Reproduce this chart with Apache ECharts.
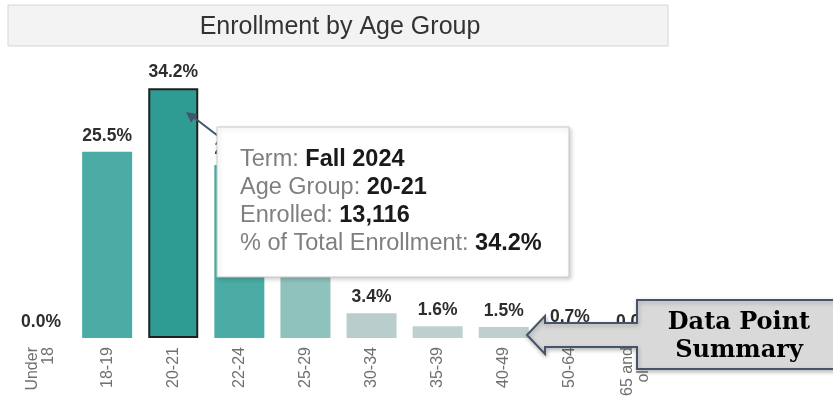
<!DOCTYPE html>
<html>
<head>
<meta charset="utf-8">
<script src="https://cdn.jsdelivr.net/npm/echarts@6/dist/echarts.min.js"></script>
<style>
html,body{margin:0;padding:0;background:#fff;}
#chart{width:833px;height:401px;}
</style>
</head>
<body>
<div id="chart"></div>
<script>
// ---- data ----
const chartTitle = 'Enrollment by Age Group';
const categories = ['Under\n18', '18-19', '20-21', '22-24', '25-29', '30-34', '35-39', '40-49', '50-64', '65 and\nolder'];
const pctOfTotal = [0.0, 25.5, 34.2, 23.7, 9.4, 3.4, 1.6, 1.5, 0.7, 0.0];
const selectedIndex = 2;
const tooltipLabels = ['Term', 'Age Group', 'Enrolled', '% of Total Enrollment'];
const tooltipValues = ['Fall 2024', '20-21', '13,116', '34.2%'];
const calloutLines = ['Data Point', 'Summary'];

// ---- styles ----
const barColors = ['#4aaca5', '#4aaca5', '#2f9c94', '#4aaca5', '#8fc1bd', '#b9cecc', '#bfcfcd', '#bfcfcd', '#bfcfcd', '#bfcfcd'];

const chart = echarts.init(document.getElementById('chart'), null, {renderer: 'canvas'});

const seriesData = pctOfTotal.map((v, i) => {
  const d = {value: v, itemStyle: {color: barColors[i]}};
  if (i === selectedIndex) {
    d.itemStyle.borderColor = '#1f1f1f';
    d.itemStyle.borderWidth = 2;
  }
  return d;
});

const tipText = tooltipLabels.map((l, i) => '{g|' + l + ': }{b|' + tooltipValues[i] + '}').join('\n');

chart.setOption({
  animation: false,
  backgroundColor: '#ffffff',
  grid: {left: 8, right: 164, top: 46, bottom: 63},
  xAxis: {
    type: 'category',
    data: categories,
    axisLine: {show: false},
    axisTick: {show: false},
    splitLine: {show: false},
    axisLabel: {
      rotate: 90,
      interval: 0,
      margin: 9,
      fontSize: 16,
      lineHeight: 16,
      color: '#707070',
      fontFamily: 'Liberation Sans'
    }
  },
  yAxis: {type: 'value', min: 0, max: 40, show: false},
  series: [{
    type: 'bar',
    data: seriesData,
    barWidth: 50,
    label: {
      show: true,
      position: 'top',
      distance: 7,
      fontSize: 17.5,
      fontWeight: 'bold',
      color: '#2e2e2e',
      fontFamily: 'Liberation Sans',
      formatter: p => p.value.toFixed(1) + '%'
    }
  }],
  graphic: [
    // title box
    {type: 'rect', shape: {x: 8, y: 5, width: 660, height: 41},
     style: {fill: '#f3f3f3', stroke: '#d6d6d6', lineWidth: 1}, z: 10},
    {type: 'text', x: 340, y: 27,
     style: {text: chartTitle, font: '25px "Liberation Sans"', fill: '#333333', align: 'center', verticalAlign: 'middle'}, z: 11},
    // tooltip arrow
    {type: 'line', shape: {x1: 222, y1: 139, x2: 192, y2: 116},
     style: {stroke: '#44546a', lineWidth: 2}, z: 20},
    {type: 'polygon', shape: {points: [[186, 112], [197.5, 114], [191, 122.5]]},
     style: {fill: '#44546a'}, z: 20},
    // tooltip box
    {type: 'rect', shape: {x: 217, y: 127, width: 352, height: 150},
     style: {fill: '#ffffff', stroke: '#c9c9c9', lineWidth: 1,
             shadowBlur: 4, shadowOffsetX: 2, shadowOffsetY: 2, shadowColor: 'rgba(0,0,0,0.18)'}, z: 30},
    {type: 'text', x: 240, y: 146, z: 31,
     style: {
       text: tipText,
       font: '23.5px "Liberation Sans"',
       lineHeight: 28,
       rich: {
         g: {fontSize: 23.5, fontFamily: 'Liberation Sans', fill: '#7f7f7f', lineHeight: 28},
         b: {fontSize: 23.5, fontFamily: 'Liberation Sans', fontWeight: 'bold', fill: '#1a1a1a', lineHeight: 28}
       }
     }},
    // callout
    {type: 'polygon', z: 40,
     shape: {points: [[527, 335], [545, 316], [545, 323], [637, 323], [637, 300], [842, 300], [842, 369], [637, 369], [637, 347], [545, 347], [545, 354]]},
     style: {fill: '#d9d9d9', stroke: '#44546a', lineWidth: 2,
             shadowBlur: 4, shadowOffsetX: 1, shadowOffsetY: 2, shadowColor: 'rgba(0,0,0,0.25)'}},
    {type: 'text', x: 739, y: 337, z: 41,
     style: {text: calloutLines.join('\n'), font: 'bold 24px "DejaVu Serif"', lineHeight: 28,
             fill: '#000000', align: 'center', verticalAlign: 'middle'}}
  ]
});
</script>
</body>
</html>
